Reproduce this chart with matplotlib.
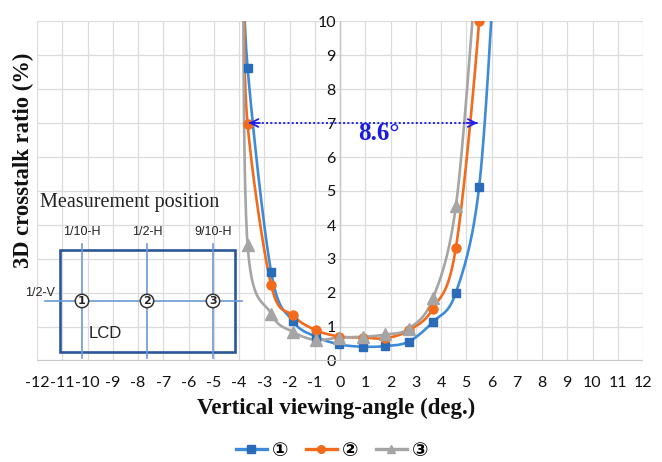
import numpy as np
import matplotlib
matplotlib.use("Agg")
import matplotlib.pyplot as plt
from matplotlib.patches import Rectangle, Circle

plt.rcParams["axes.unicode_minus"] = False

# Viewing angles (deg.) and crosstalk (%) for each measurement position.
# The first and last entries of each series lie just above the plotted range.
angles1 = [-3.85, -3.66, -2.73, -1.87, -0.97, -0.03, 0.91, 1.80, 2.72, 3.68, 4.59, 5.51, 6.15]
pos1 = [12.5, 8.63, 2.63, 1.18, 0.72, 0.49, 0.42, 0.44, 0.57, 1.15, 2.01, 5.12, 12.0]
angles2 = [-3.80, -3.66, -2.73, -1.87, -0.97, -0.03, 0.91, 1.80, 2.72, 3.68, 4.59, 5.51, 5.70]
pos2 = [11.0, 6.96, 2.24, 1.34, 0.91, 0.72, 0.69, 0.67, 0.90, 1.54, 3.33, 9.99, 14.0]
angles3 = [-3.85, -3.66, -2.73, -1.87, -0.97, -0.03, 0.91, 1.80, 2.72, 3.68, 4.59, 5.35]
pos3 = [12.5, 3.41, 1.39, 0.86, 0.62, 0.69, 0.71, 0.78, 0.95, 1.84, 4.56, 11.0]

series_labels = ["\u2460", "\u2461", "\u2462"]
xticks = list(range(-12, 13))
yticks = list(range(0, 11))
fov_y = 7
fov_left, fov_right = -3.62, 5.45
fov_text = "8.6\u00b0"

c_blue_line, c_blue_mark = "#3D8BD9", "#2A6CB8"
c_orange = "#F26B1D"
c_gray = "#A5A5A5"


def smooth(xs, ys, n=40):
    """Bezier smoothing through the points (Catmull-Rom style control points)."""
    p = np.column_stack([xs, ys]).astype(float)
    p = np.vstack([p[0], p, p[-1]])
    out = []
    for i in range(1, len(p) - 2):
        p0, p1, p2, p3 = p[i - 1], p[i], p[i + 1], p[i + 2]
        c1 = p1 + (p2 - p0) / 6.0
        c2 = p2 - (p3 - p1) / 6.0
        t = np.linspace(0, 1, n)[:, None]
        seg = ((1 - t) ** 3) * p1 + 3 * ((1 - t) ** 2) * t * c1 + 3 * (1 - t) * t ** 2 * c2 + t ** 3 * p2
        out.append(seg)
    out = np.vstack(out)
    return out[:, 0], out[:, 1]


fig = plt.figure(figsize=(6.62, 4.62), dpi=100)
ax = fig.add_axes([37 / 662, 101 / 462, 606 / 662, 340 / 462])
ax.set_xlim(-12, 12)
ax.set_ylim(0, 10)

ax.set_xticks(xticks)
ax.set_yticks(yticks)
ax.grid(True, color="#DCDCDC", lw=0.9)
ax.set_axisbelow(True)
for s in ["top", "right", "bottom"]:
    ax.spines[s].set_visible(False)
ax.spines["left"].set_position(("data", 0))
ax.spines["left"].set_color("none")
ax.axvline(0, color="#C8C8C8", lw=1.0, zorder=1)
ax.axhline(0, color="#C8C8C8", lw=1.6, zorder=1)
ax.tick_params(length=0)
ax.tick_params(axis="x", pad=11)
ax.tick_params(axis="y", pad=3)
for lab in ax.get_xticklabels() + ax.get_yticklabels():
    lab.set_fontfamily("Lato")
    lab.set_fontsize(11.5)
    lab.set_color("#111111")

data = [
    (angles1, pos1, c_blue_line, c_blue_mark, "s", 6),
    (angles2, pos2, c_orange, c_orange, "o", 6.5),
    (angles3, pos3, c_gray, c_gray, "^", 8),
]
handles = []
for (xs, ys, lc, mc, mk, ms), lab in zip(data, series_labels):
    sx, sy = smooth(xs, ys)
    ax.plot(sx, sy, color=lc, lw=1.9, zorder=3)
    ax.plot(xs, ys, ls="none", marker=mk, ms=ms, color=mc, zorder=4)
    h, = ax.plot([], [], color=lc, lw=2.4, marker=mk, ms=5.5, mfc=mc, mec=mc, label=lab)
    handles.append(h)

# Viewing-zone width arrow
ax.plot([fov_left, fov_right], [fov_y, fov_y], color="#2020F0", lw=1.4, ls=(0, (1, 1.2)), zorder=5)
for xa, xb in [(fov_left + 0.45, fov_left), (fov_right - 0.45, fov_right)]:
    ax.annotate("", xy=(xb, fov_y), xytext=(xa, fov_y),
                arrowprops=dict(arrowstyle="->", color="#2020F0", lw=1.3, mutation_scale=14,
                                shrinkA=0, shrinkB=0), zorder=5)
ax.text(1.54, 6.68, fov_text, color="#1A1AE0",
        fontfamily="Liberation Serif", fontweight="bold", fontsize=18, ha="center", va="center",
        zorder=6)

fig.text(23 / 662, 1 - 160 / 462, "3D crosstalk ratio (%)", rotation=90, ha="center", va="center",
         fontfamily="Liberation Serif", fontweight="bold", fontsize=16.3, color="#111111")
fig.text(336 / 662, 1 - 408 / 462, "Vertical viewing-angle (deg.)", ha="center", va="center",
         fontfamily="Liberation Serif", fontweight="bold", fontsize=16.5, color="#111111")

leg = fig.legend(handles=handles, loc="center", bbox_to_anchor=(332 / 662, 1 - 450 / 462), ncol=3,
                 frameon=False, handlelength=1.6, columnspacing=0.9, handletextpad=0.25,
                 prop=dict(family="DejaVu Sans", weight="bold", size=14))

# Measurement-position diagram
ins = fig.add_axes([0, (462 - 370) / 462, 250 / 662, 190 / 462], zorder=10)
ins.set_xlim(0, 250)
ins.set_ylim(370, 180)
ins.axis("off")
ins.patch.set_alpha(0)
ins.text(40, 202, "Measurement position", fontfamily="Liberation Serif", fontsize=14.5,
         ha="left", va="center", color="#222222")
ins.add_patch(Rectangle((60, 250), 175, 102, fill=False, ec="#2B5797", lw=1.9))
line_c = "#6A9AD6"
col_x = [82, 147, 213]
for x in col_x:
    ins.plot([x, x], [244, 358], color=line_c, lw=1.2)
ins.plot([45, 242], [301, 301], color=line_c, lw=1.2)
for x, lab in zip(col_x, ["1", "2", "3"]):
    ins.add_patch(Circle((x, 301), 6.7, fc="white", ec="#333333", lw=1.1, zorder=5))
    ins.text(x, 301.5, lab, ha="center", va="center", fontsize=8, fontweight="bold",
             fontfamily="DejaVu Sans", color="#222222", zorder=6)
for x, lab in zip(col_x, ["1/10-H", "1/2-H", "9/10-H"]):
    ins.text(x, 232, lab, ha="center", va="center", fontsize=9, fontfamily="Liberation Sans",
             color="#222222")
ins.text(55, 293, "1/2-V", ha="right", va="center", fontsize=9, fontfamily="Liberation Sans",
         color="#222222")
ins.text(105, 334, "LCD", ha="center", va="center", fontsize=12, fontfamily="Liberation Sans",
         color="#222222")

fig.savefig("out.png", dpi=100)
